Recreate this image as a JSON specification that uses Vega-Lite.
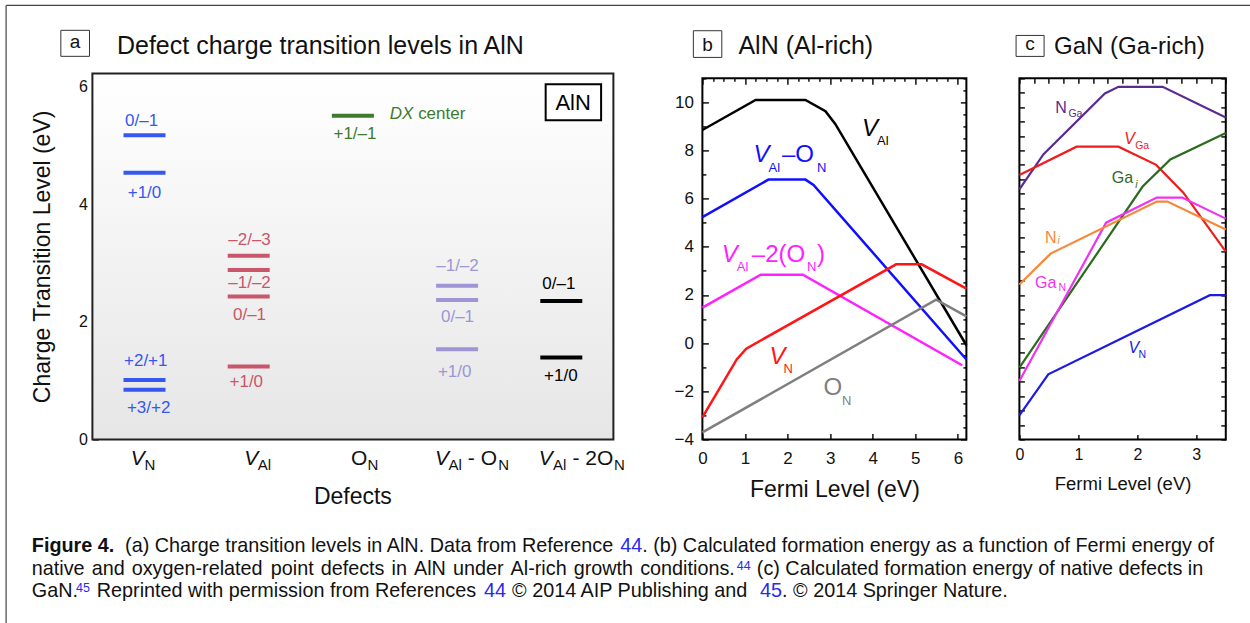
{
  "$schema": "https://vega.github.io/schema/vega-lite/v6.json",
  "padding": {"left": 5.4, "top": 4.4, "right": 0, "bottom": 0},
  "background": "#ffffff",
  "config": {
    "font": "Liberation Sans",
    "view": {"stroke": null},
    "axis": {"labelFont": "Liberation Sans", "titleFont": "Liberation Sans", "titleFontWeight": "normal", "labelColor": "#111111", "titleColor": "#111111", "tickColor": "#111111", "grid": false, "domain": false, "zindex": 1},
    "text": {"font": "Liberation Sans"}
  },
  "datasets": {
    "levels": [
      {"defect": "VN", "x": 0.5, "y": 5.17},
      {"defect": "VN", "x": 0.5, "y": 4.53},
      {"defect": "VN", "x": 0.5, "y": 1.01},
      {"defect": "VN", "x": 0.5, "y": 0.845},
      {"defect": "VAl", "x": 1.5, "y": 3.12},
      {"defect": "VAl", "x": 1.5, "y": 2.88},
      {"defect": "VAl", "x": 1.5, "y": 2.43},
      {"defect": "VAl", "x": 1.5, "y": 1.24},
      {"defect": "ON", "x": 2.5, "y": 5.5},
      {"defect": "VAl-ON", "x": 3.5, "y": 2.61},
      {"defect": "VAl-ON", "x": 3.5, "y": 2.37},
      {"defect": "VAl-ON", "x": 3.5, "y": 1.53},
      {"defect": "VAl-2ON", "x": 4.5, "y": 2.35},
      {"defect": "VAl-2ON", "x": 4.5, "y": 1.39}
    ],
    "levelLabels": [
      {"defect": "VN", "x": 0.472, "y": 5.318, "label": "0/–1"},
      {"defect": "VN", "x": 0.5, "y": 4.102, "label": "+1/0"},
      {"defect": "VN", "x": 0.512, "y": 1.24, "label": "+2/+1"},
      {"defect": "VN", "x": 0.54, "y": 0.447, "label": "+3/+2"},
      {"defect": "VAl", "x": 1.508, "y": 3.309, "label": "–2/–3"},
      {"defect": "VAl", "x": 1.508, "y": 2.572, "label": "–1/–2"},
      {"defect": "VAl", "x": 1.508, "y": 2.035, "label": "0/–1"},
      {"defect": "VAl", "x": 1.477, "y": 0.889, "label": "+1/0"},
      {"defect": "ON", "x": 2.52, "y": 5.111, "label": "+1/–1"},
      {"defect": "VAl-ON", "x": 3.504, "y": 2.855, "label": "–1/–2"},
      {"defect": "VAl-ON", "x": 3.504, "y": 1.993, "label": "0/–1"},
      {"defect": "VAl-ON", "x": 3.477, "y": 1.059, "label": "+1/0"},
      {"defect": "VAl-2ON", "x": 4.477, "y": 2.562, "label": "0/–1"},
      {"defect": "VAl-2ON", "x": 4.496, "y": 0.986, "label": "+1/0"}
    ],
    "bLines": [
      {"s": "VAl", "x": 0, "y": 8.85}, {"s": "VAl", "x": 1.25, "y": 10.1}, {"s": "VAl", "x": 2.42, "y": 10.1}, {"s": "VAl", "x": 2.89, "y": 9.63}, {"s": "VAl", "x": 3.12, "y": 9.1}, {"s": "VAl", "x": 6.2, "y": -0.09},
      {"s": "VAl-ON", "x": 0, "y": 5.23}, {"s": "VAl-ON", "x": 1.55, "y": 6.79}, {"s": "VAl-ON", "x": 2.42, "y": 6.79}, {"s": "VAl-ON", "x": 2.61, "y": 6.57}, {"s": "VAl-ON", "x": 6.2, "y": -0.68},
      {"s": "VAl-2ON", "x": 0, "y": 1.47}, {"s": "VAl-2ON", "x": 1.37, "y": 2.84}, {"s": "VAl-2ON", "x": 2.36, "y": 2.84}, {"s": "VAl-2ON", "x": 6.1, "y": -0.92},
      {"s": "VN", "x": 0, "y": -3.09}, {"s": "VN", "x": 0.81, "y": -0.67}, {"s": "VN", "x": 1.03, "y": -0.23}, {"s": "VN", "x": 4.55, "y": 3.27}, {"s": "VN", "x": 5.15, "y": 3.27}, {"s": "VN", "x": 6.2, "y": 2.26},
      {"s": "ON", "x": 0, "y": -3.71}, {"s": "ON", "x": 5.49, "y": 1.8}, {"s": "ON", "x": 6.2, "y": 1.11}
    ],
    "cLines": [
      {"s": "NGa", "x": 0, "y": 8.65}, {"s": "NGa", "x": 0.41, "y": 9.87}, {"s": "NGa", "x": 1.45, "y": 11.97}, {"s": "NGa", "x": 1.68, "y": 12.2}, {"s": "NGa", "x": 2.43, "y": 12.2}, {"s": "NGa", "x": 3.5, "y": 11.14},
      {"s": "VGa", "x": 0, "y": 9.15}, {"s": "VGa", "x": 0.97, "y": 10.13}, {"s": "VGa", "x": 1.68, "y": 10.13}, {"s": "VGa", "x": 2.32, "y": 9.5}, {"s": "VGa", "x": 2.78, "y": 8.54}, {"s": "VGa", "x": 3.5, "y": 6.5},
      {"s": "Gai", "x": 0, "y": 2.48}, {"s": "Gai", "x": 2.09, "y": 8.75}, {"s": "Gai", "x": 2.56, "y": 9.69}, {"s": "Gai", "x": 3.5, "y": 10.6},
      {"s": "GaN", "x": 0, "y": 2.02}, {"s": "GaN", "x": 1.47, "y": 7.5}, {"s": "GaN", "x": 2.33, "y": 8.37}, {"s": "GaN", "x": 2.76, "y": 8.37}, {"s": "GaN", "x": 3.5, "y": 7.64},
      {"s": "Ni", "x": 0, "y": 5.36}, {"s": "Ni", "x": 0.53, "y": 6.43}, {"s": "Ni", "x": 2.33, "y": 8.23}, {"s": "Ni", "x": 2.51, "y": 8.23}, {"s": "Ni", "x": 3.5, "y": 7.26},
      {"s": "VN", "x": 0, "y": 0.83}, {"s": "VN", "x": 0.49, "y": 2.25}, {"s": "VN", "x": 3.23, "y": 4.99}, {"s": "VN", "x": 3.5, "y": 4.99}
    ],
    "border": [
      {"x": -25.7, "x2": -25.7, "line": -23.298, "line2": 4.2},
      {"x": -25.7, "x2": 1230, "line": -23.298, "line2": -23.298}
    ],
    "capNormal": [
      {"x": 93.3, "line": 1, "t": "(a) Charge transition levels in AlN. Data from Reference"},
      {"x": 610.4, "line": 1, "t": ". (b) Calculated formation energy as a function of Fermi energy of"},
      {"x": 0, "line": 2, "t": "native"},
      {"x": 59.85, "line": 2, "t": "and"},
      {"x": 99.9, "line": 2, "t": "oxygen-related"},
      {"x": 238.95, "line": 2, "t": "point"},
      {"x": 288.9, "line": 2, "t": "defects"},
      {"x": 359.75, "line": 2, "t": "in"},
      {"x": 382.2, "line": 2, "t": "AlN"},
      {"x": 421.15, "line": 2, "t": "under"},
      {"x": 478.8, "line": 2, "t": "Al-rich"},
      {"x": 541.95, "line": 2, "t": "growth"},
      {"x": 608.4, "line": 2, "t": "conditions."},
      {"x": 725, "line": 2, "t": "(c) Calculated formation energy of native defects in"},
      {"x": 0, "line": 3, "t": "GaN."},
      {"x": 65, "line": 3, "t": "Reprinted with permission from References"},
      {"x": 480.3, "line": 3, "t": "© 2014 AIP Publishing and"},
      {"x": 750.3, "line": 3, "t": ". © 2014 Springer Nature."}
    ],
    "capBold": [{"x": 0, "line": 1, "t": "Figure 4."}],
    "capLink": [
      {"x": 588.4, "line": 1, "t": "44"},
      {"x": 452.3, "line": 3, "t": "44"},
      {"x": 728.3, "line": 3, "t": "45"}
    ],
    "capSup": [
      {"x": 705, "line": 2, "t": "44"},
      {"x": 44.3, "line": 3, "t": "45"}
    ]
  },
  "columns": 3,
  "align": "none",
  "bounds": "flush",
  "spacing": {"row": 101.45, "column": 53},
  "resolve": {"scale": {"color": "independent"}},
  "concat": [
    {
      "width": 557,
      "height": 366,
      "encoding": {
        "x": {"field": "x", "type": "quantitative", "scale": {"domain": [0, 5.3455], "nice": false, "zero": false}, "axis": null},
        "y": {"field": "y", "type": "quantitative", "scale": {"domain": [0, 6.22], "nice": false, "zero": false},
          "axis": {"values": [0, 2, 4, 6], "tickSize": -6, "tickWidth": 1.5, "labelPadding": 11, "labelFontSize": 16, "labelFlush": false, "labelOverlap": false, "format": "d",
            "title": "Charge Transition Level (eV)", "titleFontSize": 23, "titleBaseline": "alphabetic", "titlePadding": 23, "minExtent": 20, "maxExtent": 20}}
      },
      "layer": [
        {"data": {"values": [{"x": 0, "x2": 5, "y": 0, "y2": 6.22}]},
         "mark": {"type": "rect", "fill": {"gradient": "linear", "x1": 0, "y1": 0, "x2": 0, "y2": 1, "stops": [{"offset": 0, "color": "#ffffff"}, {"offset": 1, "color": "#e6e6e6"}]}, "stroke": "#222222", "strokeWidth": 2},
         "encoding": {"x2": {"field": "x2"}, "y2": {"field": "y2"}}},
        {"data": {"name": "levels"},
         "mark": {"type": "tick", "orient": "horizontal", "size": 42, "thickness": 4, "opacity": 1},
         "encoding": {"color": {"field": "defect", "type": "nominal", "scale": {"domain": ["VN", "VAl", "ON", "VAl-ON", "VAl-2ON"], "range": ["#3658ee", "#c9566a", "#3e7b2c", "#9d95d6", "#000000"]}, "legend": null}}},
        {"data": {"name": "levelLabels"},
         "mark": {"type": "text", "align": "center", "baseline": "alphabetic", "fontSize": 17},
         "encoding": {"text": {"field": "label"}, "color": {"field": "defect", "type": "nominal", "scale": {"domain": ["VN", "VAl", "ON", "VAl-ON", "VAl-2ON"], "range": ["#3658ee", "#c9566a", "#3e7b2c", "#9d95d6", "#000000"]}, "legend": null}}},
        {"data": {"values": [{"x": 2.854, "y": 5.445, "t": "DX"}]},
         "mark": {"type": "text", "align": "left", "baseline": "alphabetic", "fontSize": 17, "fontStyle": "italic", "color": "#3e7b2c"},
         "encoding": {"text": {"field": "t"}}},
        {"data": {"values": [{"x": 3.126, "y": 5.445, "t": "center"}]},
         "mark": {"type": "text", "align": "left", "baseline": "alphabetic", "fontSize": 17, "color": "#3e7b2c"},
         "encoding": {"text": {"field": "t"}}},
        {"data": {"values": [{"x": 0.367, "y": -0.442, "t": "V"}, {"x": 1.457, "y": -0.442, "t": "V"}, {"x": 3.288, "y": -0.442, "t": "V"}, {"x": 4.284, "y": -0.442, "t": "V"}]},
         "mark": {"type": "text", "align": "left", "baseline": "alphabetic", "fontSize": 21, "fontStyle": "italic", "color": "#111111"},
         "encoding": {"text": {"field": "t"}}},
        {"data": {"values": [{"x": 2.481, "y": -0.442, "t": "O"}, {"x": 3.603, "y": -0.442, "t": "- O"}, {"x": 4.607, "y": -0.442, "t": "- 2O"}]},
         "mark": {"type": "text", "align": "left", "baseline": "alphabetic", "fontSize": 21, "color": "#111111"},
         "encoding": {"text": {"field": "t"}}},
        {"data": {"values": [{"x": 0.501, "y": -0.527, "t": "N"}, {"x": 1.587, "y": -0.527, "t": "Al"}, {"x": 2.64, "y": -0.527, "t": "N"}, {"x": 3.418, "y": -0.527, "t": "Al"}, {"x": 3.894, "y": -0.527, "t": "N"}, {"x": 4.421, "y": -0.527, "t": "Al"}, {"x": 5.007, "y": -0.527, "t": "N"}]},
         "mark": {"type": "text", "align": "left", "baseline": "alphabetic", "fontSize": 15, "color": "#111111"},
         "encoding": {"text": {"field": "t"}}},
        {"data": {"values": [{"x": 2.5, "y": -1.093, "t": "Defects"}]},
         "mark": {"type": "text", "align": "center", "baseline": "alphabetic", "fontSize": 23, "color": "#111111"},
         "encoding": {"text": {"field": "t"}}},
        {"data": {"values": [{"x": 4.35, "x2": 4.882, "y": 6.034, "y2": 5.422}]},
         "mark": {"type": "rect", "fill": "#ffffff", "stroke": "#000000", "strokeWidth": 2},
         "encoding": {"x2": {"field": "x2"}, "y2": {"field": "y2"}}},
        {"data": {"values": [{"x": 4.614, "y": 5.604, "t": "AlN"}]},
         "mark": {"type": "text", "align": "center", "baseline": "alphabetic", "fontSize": 22, "color": "#000000"},
         "encoding": {"text": {"field": "t"}}},
        {"data": {"values": [{"x": -0.303, "x2": -0.028, "y": 6.952, "y2": 6.51}]},
         "mark": {"type": "rect", "fill": "#ffffff", "stroke": "#333333", "strokeWidth": 1},
         "encoding": {"x2": {"field": "x2"}, "y2": {"field": "y2"}}},
        {"data": {"values": [{"x": -0.166, "y": 6.651, "t": "a"}]},
         "mark": {"type": "text", "align": "center", "baseline": "alphabetic", "fontSize": 19, "color": "#111111"},
         "encoding": {"text": {"field": "t"}}},
        {"data": {"values": [{"x": 0.236, "y": 6.556, "t": "Defect charge transition levels in AlN"}]},
         "mark": {"type": "text", "align": "left", "baseline": "alphabetic", "fontSize": 25, "color": "#111111"},
         "encoding": {"text": {"field": "t"}}}
      ]
    },
    {
      "width": 264,
      "height": 366,
      "layer": [
        {
          "encoding": {
            "x": {"field": "x", "type": "quantitative", "scale": {"domain": [0, 6.2], "nice": false, "zero": false},
              "axis": {"values": [0, 0.25, 0.5, 0.75, 1, 1.25, 1.5, 1.75, 2, 2.25, 2.5, 2.75, 3, 3.25, 3.5, 3.75, 4, 4.25, 4.5, 4.75, 5, 5.25, 5.5, 5.75, 6],
                "tickSize": {"condition": {"test": "abs(datum.value - round(datum.value)) < 0.01", "value": -6}, "value": -3},
                "labelExpr": "abs(datum.value - round(datum.value)) < 0.01 ? datum.label : ''",
                "format": "d", "tickWidth": 1.5, "labelFontSize": 17, "labelPadding": 30.4, "labelBaseline": "alphabetic", "labelFlush": false, "labelOverlap": false,
                "title": "Fermi Level (eV)", "titleFontSize": 23, "titleBaseline": "alphabetic", "minExtent": 30, "maxExtent": 30, "titlePadding": 27.5}},
            "y": {"field": "y", "type": "quantitative", "scale": {"domain": [-4, 11.2], "nice": false, "zero": false},
              "axis": {"values": [-4, -3.5, -3, -2.5, -2, -1.5, -1, -0.5, 0, 0.5, 1, 1.5, 2, 2.5, 3, 3.5, 4, 4.5, 5, 5.5, 6, 6.5, 7, 7.5, 8, 8.5, 9, 9.5, 10, 10.5, 11],
                "tickSize": {"condition": {"test": "abs(datum.value / 2 - round(datum.value / 2)) < 0.01", "value": -6}, "value": -3.5},
                "labelExpr": "abs(datum.value / 2 - round(datum.value / 2)) < 0.01 ? datum.label : ''",
                "format": "d", "tickWidth": 1.5, "labelFontSize": 17, "labelPadding": 15, "labelFlush": false, "labelOverlap": false, "title": null}}
          },
          "layer": [
            {"data": {"values": [{"x": 0, "x2": 6.2, "y": -4, "y2": 11}]},
             "mark": {"type": "rect", "fillOpacity": 0, "stroke": "#000000", "strokeWidth": 2},
             "encoding": {"x2": {"field": "x2"}, "y2": {"field": "y2"}}},
            {"data": {"name": "bLines"},
             "mark": {"type": "line", "strokeWidth": 2.5},
             "encoding": {"color": {"field": "s", "type": "nominal", "scale": {"domain": ["VAl", "VAl-ON", "VAl-2ON", "VN", "ON"], "range": ["#000000", "#1010ff", "#ff20ff", "#ff1515", "#7f7f7f"]}, "legend": null}}},
            {"data": {"values": [{"s": "VAl", "x": 3.749, "y": 8.618, "t": "V"}, {"s": "VAl-ON", "x": 1.2, "y": 7.512, "t": "V"}, {"s": "VAl-2ON", "x": 0.455, "y": 3.367, "t": "V"}, {"s": "VN", "x": 1.576, "y": -0.849, "t": "V"}]},
             "mark": {"type": "text", "align": "left", "baseline": "alphabetic", "fontSize": 24, "fontStyle": "italic"},
             "encoding": {"text": {"field": "t"}, "color": {"field": "s", "type": "nominal", "scale": {"domain": ["VAl", "VAl-ON", "VAl-2ON", "VN", "ON"], "range": ["#000000", "#1010ff", "#ff20ff", "#ff1515", "#7f7f7f"]}, "legend": null}}},
            {"data": {"values": [{"s": "VAl-ON", "x": 1.867, "y": 7.512, "t": "–O"}, {"s": "VAl-2ON", "x": 1.161, "y": 3.367, "t": "–2(O"}, {"s": "VAl-2ON", "x": 2.69, "y": 3.367, "t": ")"}, {"s": "ON", "x": 2.847, "y": -2.161, "t": "O"}]},
             "mark": {"type": "text", "align": "left", "baseline": "alphabetic", "fontSize": 24},
             "encoding": {"text": {"field": "t"}, "color": {"field": "s", "type": "nominal", "scale": {"domain": ["VAl", "VAl-ON", "VAl-2ON", "VN", "ON"], "range": ["#000000", "#1010ff", "#ff20ff", "#ff1515", "#7f7f7f"]}, "legend": null}}},
            {"data": {"values": [{"s": "VAl", "x": 4.102, "y": 8.245, "t": "Al"}, {"s": "VAl-ON", "x": 1.553, "y": 7.098, "t": "Al"}, {"s": "VAl-ON", "x": 2.69, "y": 7.098, "t": "N"}, {"s": "VAl-2ON", "x": 0.808, "y": 2.993, "t": "Al"}, {"s": "VAl-2ON", "x": 2.455, "y": 2.993, "t": "N"}, {"s": "VN", "x": 1.906, "y": -1.263, "t": "N"}, {"s": "ON", "x": 3.278, "y": -2.576, "t": "N"}]},
             "mark": {"type": "text", "align": "left", "baseline": "alphabetic", "fontSize": 13},
             "encoding": {"text": {"field": "t"}, "color": {"field": "s", "type": "nominal", "scale": {"domain": ["VAl", "VAl-ON", "VAl-2ON", "VN", "ON"], "range": ["#000000", "#1010ff", "#ff20ff", "#ff1515", "#7f7f7f"]}, "legend": null}}},
            {"data": {"values": [{"x": -0.212, "x2": 0.456, "y": 12.972, "y2": 11.864}]},
             "mark": {"type": "rect", "fill": "#ffffff", "stroke": "#333333", "strokeWidth": 1},
             "encoding": {"x2": {"field": "x2"}, "y2": {"field": "y2"}}},
            {"data": {"values": [{"x": 0.122, "y": 12.151, "t": "b"}]},
             "mark": {"type": "text", "align": "center", "baseline": "alphabetic", "fontSize": 19, "color": "#111111"},
             "encoding": {"text": {"field": "t"}}},
            {"data": {"values": [{"x": 0.847, "y": 12.005, "t": "AlN (Al-rich)"}]},
             "mark": {"type": "text", "align": "left", "baseline": "alphabetic", "fontSize": 25, "color": "#111111"},
             "encoding": {"text": {"field": "t"}}}
          ]
        },
        {
          "data": {"name": "bLines"},
          "mark": {"type": "point", "opacity": 0},
          "encoding": {
            "x": {"field": "x", "type": "quantitative", "scale": {"domain": [0, 6.2], "nice": false, "zero": false},
              "axis": {"orient": "top", "offset": -4.8, "values": [0, 0.25, 0.5, 0.75, 1, 1.25, 1.5, 1.75, 2, 2.25, 2.5, 2.75, 3, 3.25, 3.5, 3.75, 4, 4.25, 4.5, 4.75, 5, 5.25, 5.5, 5.75, 6],
                "tickSize": {"condition": {"test": "abs(datum.value - round(datum.value)) < 0.01", "value": -6}, "value": -3},
                "tickWidth": 1.5, "labels": false, "title": null}},
            "y": {"field": "y", "type": "quantitative", "scale": {"domain": [-4, 11.2], "nice": false, "zero": false},
              "axis": {"orient": "right", "values": [-4, -3.5, -3, -2.5, -2, -1.5, -1, -0.5, 0, 0.5, 1, 1.5, 2, 2.5, 3, 3.5, 4, 4.5, 5, 5.5, 6, 6.5, 7, 7.5, 8, 8.5, 9, 9.5, 10, 10.5, 11],
                "tickSize": {"condition": {"test": "abs(datum.value / 2 - round(datum.value / 2)) < 0.01", "value": -6}, "value": -3.5},
                "tickWidth": 1.5, "labels": false, "title": null}}
          }
        }
      ],
      "resolve": {"axis": {"x": "independent", "y": "independent"}}
    },
    {
      "width": 206.4,
      "height": 366,
      "layer": [
        {
          "encoding": {
            "x": {"field": "x", "type": "quantitative", "scale": {"domain": [0, 3.5], "nice": false, "zero": false},
              "axis": {"values": [0, 0.25, 0.5, 0.75, 1, 1.25, 1.5, 1.75, 2, 2.25, 2.5, 2.75, 3, 3.25, 3.5],
                "tickSize": -5,
                "labelExpr": "abs(datum.value - round(datum.value)) < 0.01 ? datum.label : ''",
                "format": "d", "tickWidth": 1.5, "labelFontSize": 16, "labelPadding": 25, "labelBaseline": "alphabetic", "labelFlush": false, "labelOverlap": false,
                "title": "Fermi Level (eV)", "titleFontSize": 18.5, "titleBaseline": "alphabetic", "minExtent": 25, "maxExtent": 25, "titlePadding": 25.5}},
            "y": {"field": "y", "type": "quantitative", "scale": {"domain": [0, 12.666], "nice": false, "zero": false},
              "axis": {"values": [0, 0.5, 1, 1.5, 2, 2.5, 3, 3.5, 4, 4.5, 5, 5.5, 6, 6.5, 7, 7.5, 8, 8.5, 9, 9.5, 10, 10.5, 11, 11.5, 12, 12.5],
                "tickSize": -5, "tickWidth": 1.5, "labels": false, "title": null}}
          },
          "layer": [
            {"data": {"values": [{"x": 0, "x2": 3.5, "y": 0, "y2": 12.5}]},
             "mark": {"type": "rect", "fillOpacity": 0, "stroke": "#000000", "strokeWidth": 2},
             "encoding": {"x2": {"field": "x2"}, "y2": {"field": "y2"}}},
            {"data": {"name": "cLines"},
             "mark": {"type": "line", "strokeWidth": 2.2},
             "encoding": {"color": {"field": "s", "type": "nominal", "scale": {"domain": ["NGa", "VGa", "Gai", "GaN", "Ni", "VN"], "range": ["#5b2c8f", "#f01c1c", "#2b6b1d", "#f032f0", "#f5883a", "#1c1ce0"]}, "legend": null}}},
            {"data": {"values": [{"s": "VGa", "x": 1.777, "y": 10.24, "t": "V"}, {"s": "VN", "x": 1.851, "y": 2.997, "t": "V"}]},
             "mark": {"type": "text", "align": "left", "baseline": "alphabetic", "fontSize": 16, "fontStyle": "italic"},
             "encoding": {"text": {"field": "t"}, "color": {"field": "s", "type": "nominal", "scale": {"domain": ["NGa", "VGa", "Gai", "GaN", "Ni", "VN"], "range": ["#5b2c8f", "#f01c1c", "#2b6b1d", "#f032f0", "#f5883a", "#1c1ce0"]}, "legend": null}}},
            {"data": {"values": [{"s": "NGa", "x": 0.606, "y": 11.31, "t": "N"}, {"s": "Gai", "x": 1.568, "y": 8.886, "t": "Ga"}, {"s": "Ni", "x": 0.436, "y": 6.807, "t": "N"}, {"s": "GaN", "x": 0.266, "y": 5.248, "t": "Ga"}]},
             "mark": {"type": "text", "align": "left", "baseline": "alphabetic", "fontSize": 16},
             "encoding": {"text": {"field": "t"}, "color": {"field": "s", "type": "nominal", "scale": {"domain": ["NGa", "VGa", "Gai", "GaN", "Ni", "VN"], "range": ["#5b2c8f", "#f01c1c", "#2b6b1d", "#f032f0", "#f5883a", "#1c1ce0"]}, "legend": null}}},
            {"data": {"values": [{"s": "NGa", "x": 0.832, "y": 11.14, "t": "Ga"}, {"s": "VGa", "x": 1.964, "y": 10.04, "t": "Ga"}, {"s": "GaN", "x": 0.662, "y": 5.133, "t": "N"}, {"s": "VN", "x": 2.02, "y": 2.823, "t": "N"}]},
             "mark": {"type": "text", "align": "left", "baseline": "alphabetic", "fontSize": 10.5},
             "encoding": {"text": {"field": "t"}, "color": {"field": "s", "type": "nominal", "scale": {"domain": ["NGa", "VGa", "Gai", "GaN", "Ni", "VN"], "range": ["#5b2c8f", "#f01c1c", "#2b6b1d", "#f032f0", "#f5883a", "#1c1ce0"]}, "legend": null}}},
            {"data": {"values": [{"s": "Gai", "x": 1.964, "y": 8.71, "t": "i"}, {"s": "Ni", "x": 0.645, "y": 6.77, "t": "i"}]},
             "mark": {"type": "text", "align": "left", "baseline": "alphabetic", "fontSize": 10.5, "fontStyle": "italic"},
             "encoding": {"text": {"field": "t"}, "color": {"field": "s", "type": "nominal", "scale": {"domain": ["NGa", "VGa", "Gai", "GaN", "Ni", "VN"], "range": ["#5b2c8f", "#f01c1c", "#2b6b1d", "#f032f0", "#f5883a", "#1c1ce0"]}, "legend": null}}},
            {"data": {"values": [{"x": -0.056, "x2": 0.419, "y": 13.98, "y2": 13.254}]},
             "mark": {"type": "rect", "fill": "#ffffff", "stroke": "#333333", "strokeWidth": 1},
             "encoding": {"x2": {"field": "x2"}, "y2": {"field": "y2"}}},
            {"data": {"values": [{"x": 0.182, "y": 13.461, "t": "c"}]},
             "mark": {"type": "text", "align": "center", "baseline": "alphabetic", "fontSize": 19, "color": "#111111"},
             "encoding": {"text": {"field": "t"}}},
            {"data": {"values": [{"x": 0.589, "y": 13.347, "t": "GaN (Ga-rich)"}]},
             "mark": {"type": "text", "align": "left", "baseline": "alphabetic", "fontSize": 24, "color": "#111111"},
             "encoding": {"text": {"field": "t"}}}
          ]
        },
        {
          "data": {"name": "cLines"},
          "mark": {"type": "point", "opacity": 0},
          "encoding": {
            "x": {"field": "x", "type": "quantitative", "scale": {"domain": [0, 3.5], "nice": false, "zero": false},
              "axis": {"orient": "top", "offset": -4.8, "values": [0, 0.25, 0.5, 0.75, 1, 1.25, 1.5, 1.75, 2, 2.25, 2.5, 2.75, 3, 3.25, 3.5], "tickSize": -5, "tickWidth": 1.5, "labels": false, "title": null}},
            "y": {"field": "y", "type": "quantitative", "scale": {"domain": [0, 12.666], "nice": false, "zero": false},
              "axis": {"orient": "right", "values": [0, 0.5, 1, 1.5, 2, 2.5, 3, 3.5, 4, 4.5, 5, 5.5, 6, 6.5, 7, 7.5, 8, 8.5, 9, 9.5, 10, 10.5, 11, 11.5, 12, 12.5], "tickSize": -5, "tickWidth": 1.5, "labels": false, "title": null}}
          }
        }
      ],
      "resolve": {"axis": {"x": "independent", "y": "independent"}}
    },
    {
      "width": 557,
      "height": 67.5,
      "encoding": {
        "x": {"field": "x", "type": "quantitative", "scale": {"domain": [60.6, 617.6], "nice": false, "zero": false}, "axis": null},
        "y": {"field": "line", "type": "quantitative", "scale": {"domain": [0.5, 3.5], "nice": false, "zero": false, "reverse": true}, "axis": null}
      },
      "layer": [
        {"data": {"name": "border"},
         "mark": {"type": "rule", "color": "#444444", "strokeWidth": 1.2},
         "encoding": {"x2": {"field": "x2"}, "y2": {"field": "line2"}}},
        {"data": {"name": "capNormal"},
         "mark": {"type": "text", "align": "left", "baseline": "alphabetic", "fontSize": 19.8, "color": "#111111"},
         "encoding": {"text": {"field": "t"}}},
        {"data": {"name": "capBold"},
         "mark": {"type": "text", "align": "left", "baseline": "alphabetic", "fontSize": 19.8, "fontWeight": "bold", "color": "#111111"},
         "encoding": {"text": {"field": "t"}}},
        {"data": {"name": "capLink"},
         "mark": {"type": "text", "align": "left", "baseline": "alphabetic", "fontSize": 19.8, "color": "#2a2aee"},
         "encoding": {"text": {"field": "t"}}},
        {"data": {"name": "capSup"},
         "mark": {"type": "text", "align": "left", "baseline": "alphabetic", "fontSize": 12.5, "dy": -5, "color": "#2a2aee"},
         "encoding": {"text": {"field": "t"}}}
      ]
    }
  ]
}
